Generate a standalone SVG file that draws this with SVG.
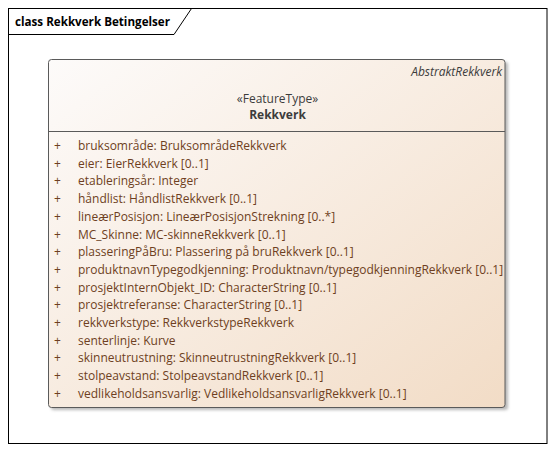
<svg xmlns="http://www.w3.org/2000/svg" width="555" height="452" viewBox="0 0 555 452">
<defs>
<linearGradient id="fill" x1="0" y1="0" x2="1" y2="1">
<stop offset="0" stop-color="#fdfbfa"/>
<stop offset="1" stop-color="#f2dcc6"/>
</linearGradient>
<filter id="sh" x="-5%" y="-5%" width="110%" height="110%">
<feGaussianBlur stdDeviation="1.5"/>
</filter>
<style>
.t{font-family:"Open Sans","Noto Sans","DejaVu Sans",sans-serif;font-size:12px;}
.a{fill:#6e3f22;}
.h{fill:#3c3c3c;}
</style>
</defs>
<rect width="555" height="452" fill="#ffffff"/>
<g id="frame">
<rect x="8.5" y="8.5" width="538.5" height="435" fill="none" stroke="#000" stroke-width="1"/>
<path d="M8.5 34.5 H174 L191.5 8.5" fill="none" stroke="#000" stroke-width="1"/>
<text class="t" x="15" y="26" fill="#000" font-weight="bold" textLength="155" lengthAdjust="spacingAndGlyphs">class Rekkverk Betingelser</text>
</g>
<g id="Rekkverk">
<rect x="51" y="62" width="457" height="348" rx="3" fill="#b8b8b8" filter="url(#sh)"/>
<rect x="48.5" y="59.5" width="456.5" height="348" rx="3" fill="url(#fill)" stroke="#5a5a5a" stroke-width="1"/>
<line x1="48.5" y1="131.5" x2="505" y2="131.5" stroke="#5a5a5a" stroke-width="1"/>
<text class="t h" x="502" y="76" text-anchor="end" font-style="italic">AbstraktRekkverk</text>
<text class="t h" x="277.5" y="103" text-anchor="middle">«FeatureType»</text>
<text class="t h" x="277.5" y="119" text-anchor="middle" font-weight="bold">Rekkverk</text>
<g class="t a">
<text x="54" y="150">+</text><text x="78" y="150">bruksområde: BruksområdeRekkverk</text>
<text x="54" y="167.7">+</text><text x="78" y="167.7">eier: EierRekkverk [0..1]</text>
<text x="54" y="185.4">+</text><text x="78" y="185.4">etableringsår: Integer</text>
<text x="54" y="203.1">+</text><text x="78" y="203.1">håndlist: HåndlistRekkverk [0..1]</text>
<text x="54" y="220.8">+</text><text x="78" y="220.8">lineærPosisjon: LineærPosisjonStrekning [0..*]</text>
<text x="54" y="238.5">+</text><text x="78" y="238.5">MC_Skinne: MC-skinneRekkverk [0..1]</text>
<text x="54" y="256.2">+</text><text x="78" y="256.2">plasseringPåBru: Plassering på bruRekkverk [0..1]</text>
<text x="54" y="273.9">+</text><text x="78" y="273.9">produktnavnTypegodkjenning: Produktnavn/typegodkjenningRekkverk [0..1]</text>
<text x="54" y="291.6">+</text><text x="78" y="291.6">prosjektInternObjekt_ID: CharacterString [0..1]</text>
<text x="54" y="309.3">+</text><text x="78" y="309.3">prosjektreferanse: CharacterString [0..1]</text>
<text x="54" y="327">+</text><text x="78" y="327">rekkverkstype: RekkverkstypeRekkverk</text>
<text x="54" y="344.7">+</text><text x="78" y="344.7">senterlinje: Kurve</text>
<text x="54" y="362.4">+</text><text x="78" y="362.4">skinneutrustning: SkinneutrustningRekkverk [0..1]</text>
<text x="54" y="380.1">+</text><text x="78" y="380.1">stolpeavstand: StolpeavstandRekkverk [0..1]</text>
<text x="54" y="397.8">+</text><text x="78" y="397.8">vedlikeholdsansvarlig: VedlikeholdsansvarligRekkverk [0..1]</text>
</g>
</g>
</svg>
